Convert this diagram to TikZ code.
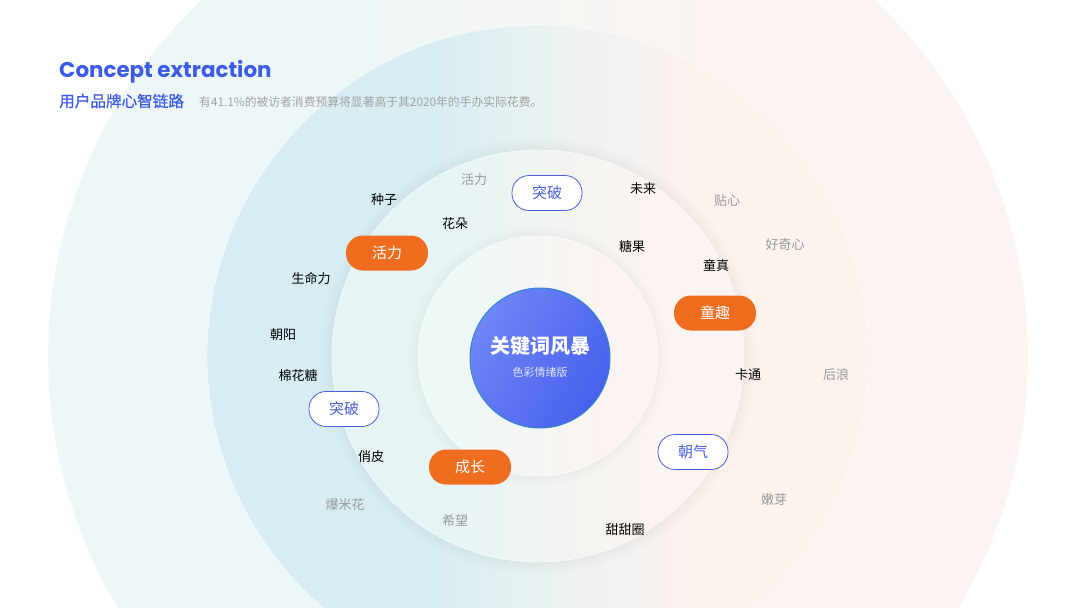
\documentclass[tikz,border=0pt]{standalone}
\usepackage{fontspec}
\setmainfont{Noto Sans CJK SC}
\newfontfamily\titlefont{Poppins}
\newfontfamily\cjkmed{Noto Sans CJK SC}[FakeBold=0.7]
\usetikzlibrary{positioning}
\definecolor{titleblue}{HTML}{3D5CE6}
\definecolor{pillorange}{HTML}{F06C1E}
\definecolor{pillblue}{HTML}{4B60DA}
\definecolor{wordgray}{HTML}{9B9B9B}
\definecolor{subgray}{HTML}{A3A3A3}
\definecolor{tealA}{HTML}{EDF6F8}
\definecolor{tealB}{HTML}{D7EDF2}
\definecolor{tealC}{HTML}{E6F4F5}
\definecolor{tealD}{HTML}{EFF7F7}
\definecolor{midA}{HTML}{F5F6F4}
\definecolor{midB}{HTML}{EDF2F1}
\definecolor{midC}{HTML}{F1F4F2}
\definecolor{midD}{HTML}{F5F6F4}
\definecolor{peach}{HTML}{FCF4F0}
\definecolor{peachB}{HTML}{FCF2EE}
\definecolor{hubA}{HTML}{6E86F6}
\definecolor{hubB}{HTML}{4860EC}
\pgfdeclarehorizontalshading{ringzero}{100bp}{color(0bp)=(tealA); color(25bp)=(tealA); color(38bp)=(tealA); color(50bp)=(midA); color(60bp)=(peach); color(100bp)=(peach)}
\pgfdeclarehorizontalshading{ringone}{100bp}{color(0bp)=(tealB); color(25bp)=(tealB); color(42bp)=(tealB); color(52bp)=(midB); color(62bp)=(peachB); color(100bp)=(peachB)}
\pgfdeclarehorizontalshading{ringtwo}{100bp}{color(0bp)=(tealC); color(25bp)=(tealC); color(38bp)=(tealC); color(52bp)=(midC); color(64bp)=(peach); color(100bp)=(peach)}
\pgfdeclarehorizontalshading{ringthree}{100bp}{color(0bp)=(tealD); color(25bp)=(tealD); color(35bp)=(tealD); color(50bp)=(midD); color(65bp)=(peach); color(100bp)=(peach)}

\begin{document}
\begin{tikzpicture}[
    x=1pt,y=-1pt,
    ring/.style={shading=#1,draw=white,draw opacity=0.6,line width=0.8pt},
    pill/.style={fill=pillorange,text=white,rounded corners=17pt,minimum width=82pt,minimum height=35pt,font=\fontsize{15}{15}\selectfont},
    ghostpill/.style={draw=pillblue,fill=white,text=pillblue,rounded corners=17pt,minimum width=70pt,minimum height=35pt,line width=0.8pt,font=\fontsize{15}{15}\selectfont},
    word/.style={text=black,font=\fontsize{13}{13}\selectfont},
    faint/.style={text=wordgray,font=\fontsize{13}{13}\selectfont}
  ]
    \useasboundingbox (0,0) rectangle (1080,608);
    \clip (0,0) rectangle (1080,608);
    % backdrop and rings
    \fill[white] (0,0) rectangle (1080,608);
    \coordinate (c) at (538,356);
    \shade[ring=ringzero] (c) circle (490pt);
    \shade[ring=ringone] (c) circle (331pt);
    \foreach \k in {1,...,10}
      \fill[black,opacity=0.0035] (c) circle ({206pt+\k*1.3pt});
    \shade[ring=ringtwo] (c) circle (206pt);
    \foreach \k in {1,...,8}
      \fill[black,opacity=0.003] (c) circle ({120pt+\k*1.3pt});
    \shade[ring=ringthree] (c) circle (120pt);

    % heading
    \node[anchor=west,text=titleblue,font=\titlefont\bfseries\fontsize{21.4}{21.4}\selectfont,inner sep=0pt] (title) at (59,72) {Concept extraction};
    \node[anchor=west,text=titleblue,font=\cjkmed\fontsize{15.6}{15.6}\selectfont,inner sep=0pt] (subtitle) at (59,101) {用户品牌心智链路};
    \node[anchor=west,text=subgray,font=\fontsize{11.8}{11.8}\selectfont,inner sep=0pt] (note) at (199,102) {有41.1\%的被访者消费预算将显著高于其2020年的手办实际花费。};

    % hub
    \shade[left color=hubA,right color=hubB,shading angle=60,draw=cyan!60!blue!85,line width=1pt] (540,358) circle (70pt);
    \node[text=white,font=\bfseries\fontsize{20}{20}\selectfont] (hub) at (540,346) {关键词风暴};
    \node[text=white!80!hubA,font=\fontsize{11}{11}\selectfont] (hubsub) at (540,372) {色彩情绪版};

    % main keywords
    \node[pill] (huoli) at (387,253) {活力};
    \node[pill] (tongqu) at (715,313) {童趣};
    \node[pill] (chengzhang) at (470,467) {成长};
    \node[ghostpill] (tupoA) at (547,193) {突破};
    \node[ghostpill] (tupoB) at (344,409) {突破};
    \node[ghostpill] (zhaoqi) at (693,452) {朝气};

    % related words
    \node[word] (zhongzi) at (384,200) {种子};
    \node[word] (huaduo) at (455,224) {花朵};
    \node[word] (shengming) at (311,279) {生命力};
    \node[word] (zhaoyang) at (283,335) {朝阳};
    \node[word] (mianhua) at (298,376) {棉花糖};
    \node[word] (qiaopi) at (371,457) {俏皮};
    \node[word] (weilai) at (643,189) {未来};
    \node[word] (tangguo) at (632,247) {糖果};
    \node[word] (tongzhen) at (716,265) {童真};
    \node[word] (katong) at (748,375) {卡通};
    \node[word] (tiantian) at (625,530) {甜甜圈};
    \node[faint] (huoliB) at (474,180) {活力};
    \node[faint] (tiexin) at (727,201) {贴心};
    \node[faint] (haoqi) at (785,245) {好奇心};
    \node[faint] (houlang) at (836,375) {后浪};
    \node[faint] (nenya) at (774,500) {嫩芽};
    \node[faint] (baomi) at (345,505) {爆米花};
    \node[faint] (xiwang) at (455,521) {希望};
  \end{tikzpicture}
\end{document}
